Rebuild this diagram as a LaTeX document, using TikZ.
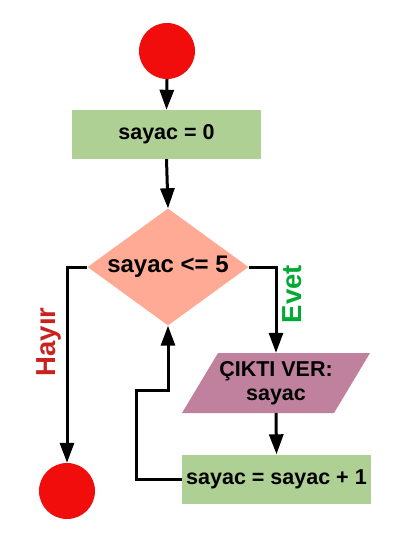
\documentclass[tikz,border=0pt]{standalone}
\usepackage{fontspec}
\setmainfont{Liberation Sans}
\usetikzlibrary{arrows.meta,shapes.geometric}
\definecolor{cred}{HTML}{F10D0C}
\definecolor{cgreen}{HTML}{AFD095}
\definecolor{cbrick}{HTML}{FFAA95}
\definecolor{cmag}{HTML}{BF819E}
\definecolor{lred}{HTML}{C9211E}
\definecolor{lgreen}{HTML}{00A933}
\tikzset{
  endpoint/.style={circle,fill=cred,minimum size=56pt,inner sep=0pt},
  procbox/.style={rectangle,fill=cgreen,minimum width=189pt,minimum height=49pt,inner sep=0pt,font=\bfseries\fontsize{21.5}{24}\selectfont},
  decision/.style={diamond,fill=cbrick,shape aspect=1.376,minimum width=161pt,minimum height=117pt,inner sep=0pt,font=\bfseries\fontsize{24}{28}\selectfont},
  iobox/.style={rectangle,minimum width=188pt,minimum height=60pt,inner sep=0pt,align=center,font=\bfseries\fontsize{21.5}{24}\selectfont},
  arr/.style={line width=3pt,-{Triangle[length=20pt,width=14pt]}},
  branchlabel/.style={rotate=90,font=\bfseries\fontsize{27.5}{30}\selectfont}
}
\begin{document}
\begin{tikzpicture}[x=1pt,y=-1pt]
\useasboundingbox[fill=white] (0,0) rectangle (397,560);
\node[endpoint] (c1) at (167,51) {};
\node[procbox] (r1) at (166.5,134.5) {sayac = 0};
\node[decision] (d) at (168,267) {sayac <= 5};
\node[iobox] (out) at (276,383) {};
\fill[cmag] (182,413) -- (218,353) -- (370,353) -- (334,413) -- cycle;
\node[iobox] at (276,383) {ÇIKTI VER:\\sayac};
\node[procbox] (r2) at (276.5,479) {sayac = sayac + 1};
\node[endpoint] (c2) at (67,491) {};
\coordinate (lp) at (136,390);
\node[branchlabel,text=lred] (hl) at (49,342) {Hayır};
\node[branchlabel,text=lgreen] (el) at (292,294) {Evet};
\draw[arr] (c1.south) -- (r1.north);
\draw[arr] (r1.south) -- (d.north);
\draw[arr] (d.west) -| (c2.north);
\draw[arr] (d.east) -| (out.north);
\draw[arr] (out.south) -- (r2.north);
\draw[arr] (r2.west) -| (lp) -| (d.south);
\end{tikzpicture}
\end{document}
